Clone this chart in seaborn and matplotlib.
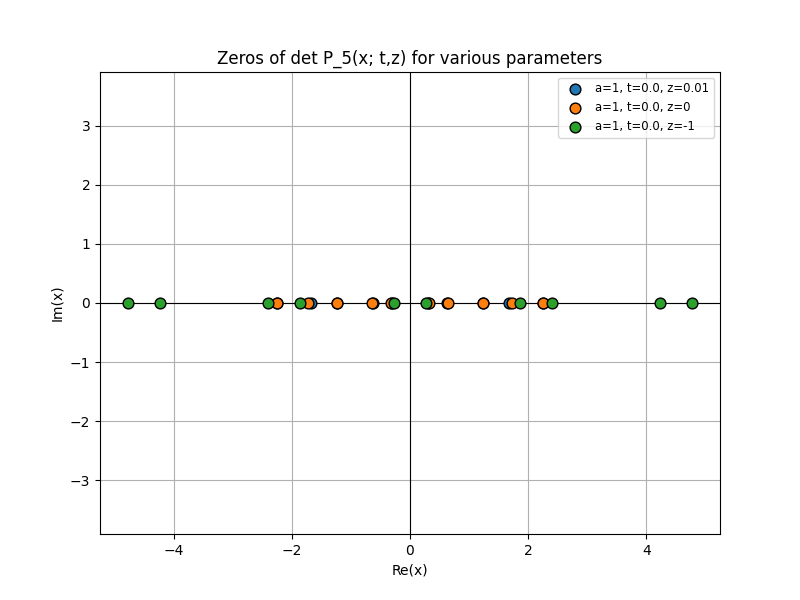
import matplotlib
matplotlib.use("Agg")
import matplotlib.pyplot as plt
import seaborn as sns
import pandas as pd

labels = ["a=1, t=0.0, z=0.01", "a=1, t=0.0, z=0", "a=1, t=0.0, z=-1"]
pos_blue = [0.31, 0.63, 1.24, 1.68, 2.25]
pos_orange = [0.33, 0.64, 1.24, 1.72, 2.26]
pos_green = [0.27, 1.86, 2.41, 4.24, 4.78]
colors = ["#1f77b4", "#ff7f0e", "#2ca02c"]

rows = []
for lab, pos in zip(labels, [pos_blue, pos_orange, pos_green]):
    for p in pos:
        rows.append((lab, p, 0.0))
        rows.append((lab, -p, 0.0))
df = pd.DataFrame(rows, columns=["series", "re", "im"])

fig, ax = plt.subplots(figsize=(8, 6), dpi=100)
for lab, c in zip(labels, colors):
    d = df[df.series == lab]
    sns.scatterplot(data=d, x="re", y="im", ax=ax, color=c, s=60,
                    edgecolor="black", linewidth=1, label=lab, zorder=3)
ax.axhline(0, color="black", linewidth=0.8)
ax.axvline(0, color="black", linewidth=0.8)
ax.grid(True)
ax.set_xlim(-5.25, 5.25)
ax.set_ylim(-3.91, 3.91)
ax.set_aspect("equal", adjustable="datalim")
ax.set_xlabel("Re(x)")
ax.set_ylabel("Im(x)")
ax.set_title("Zeros of det P_5(x; t,z) for various parameters")
ax.legend(loc="upper right", fontsize="small")
fig.savefig("out.png")
